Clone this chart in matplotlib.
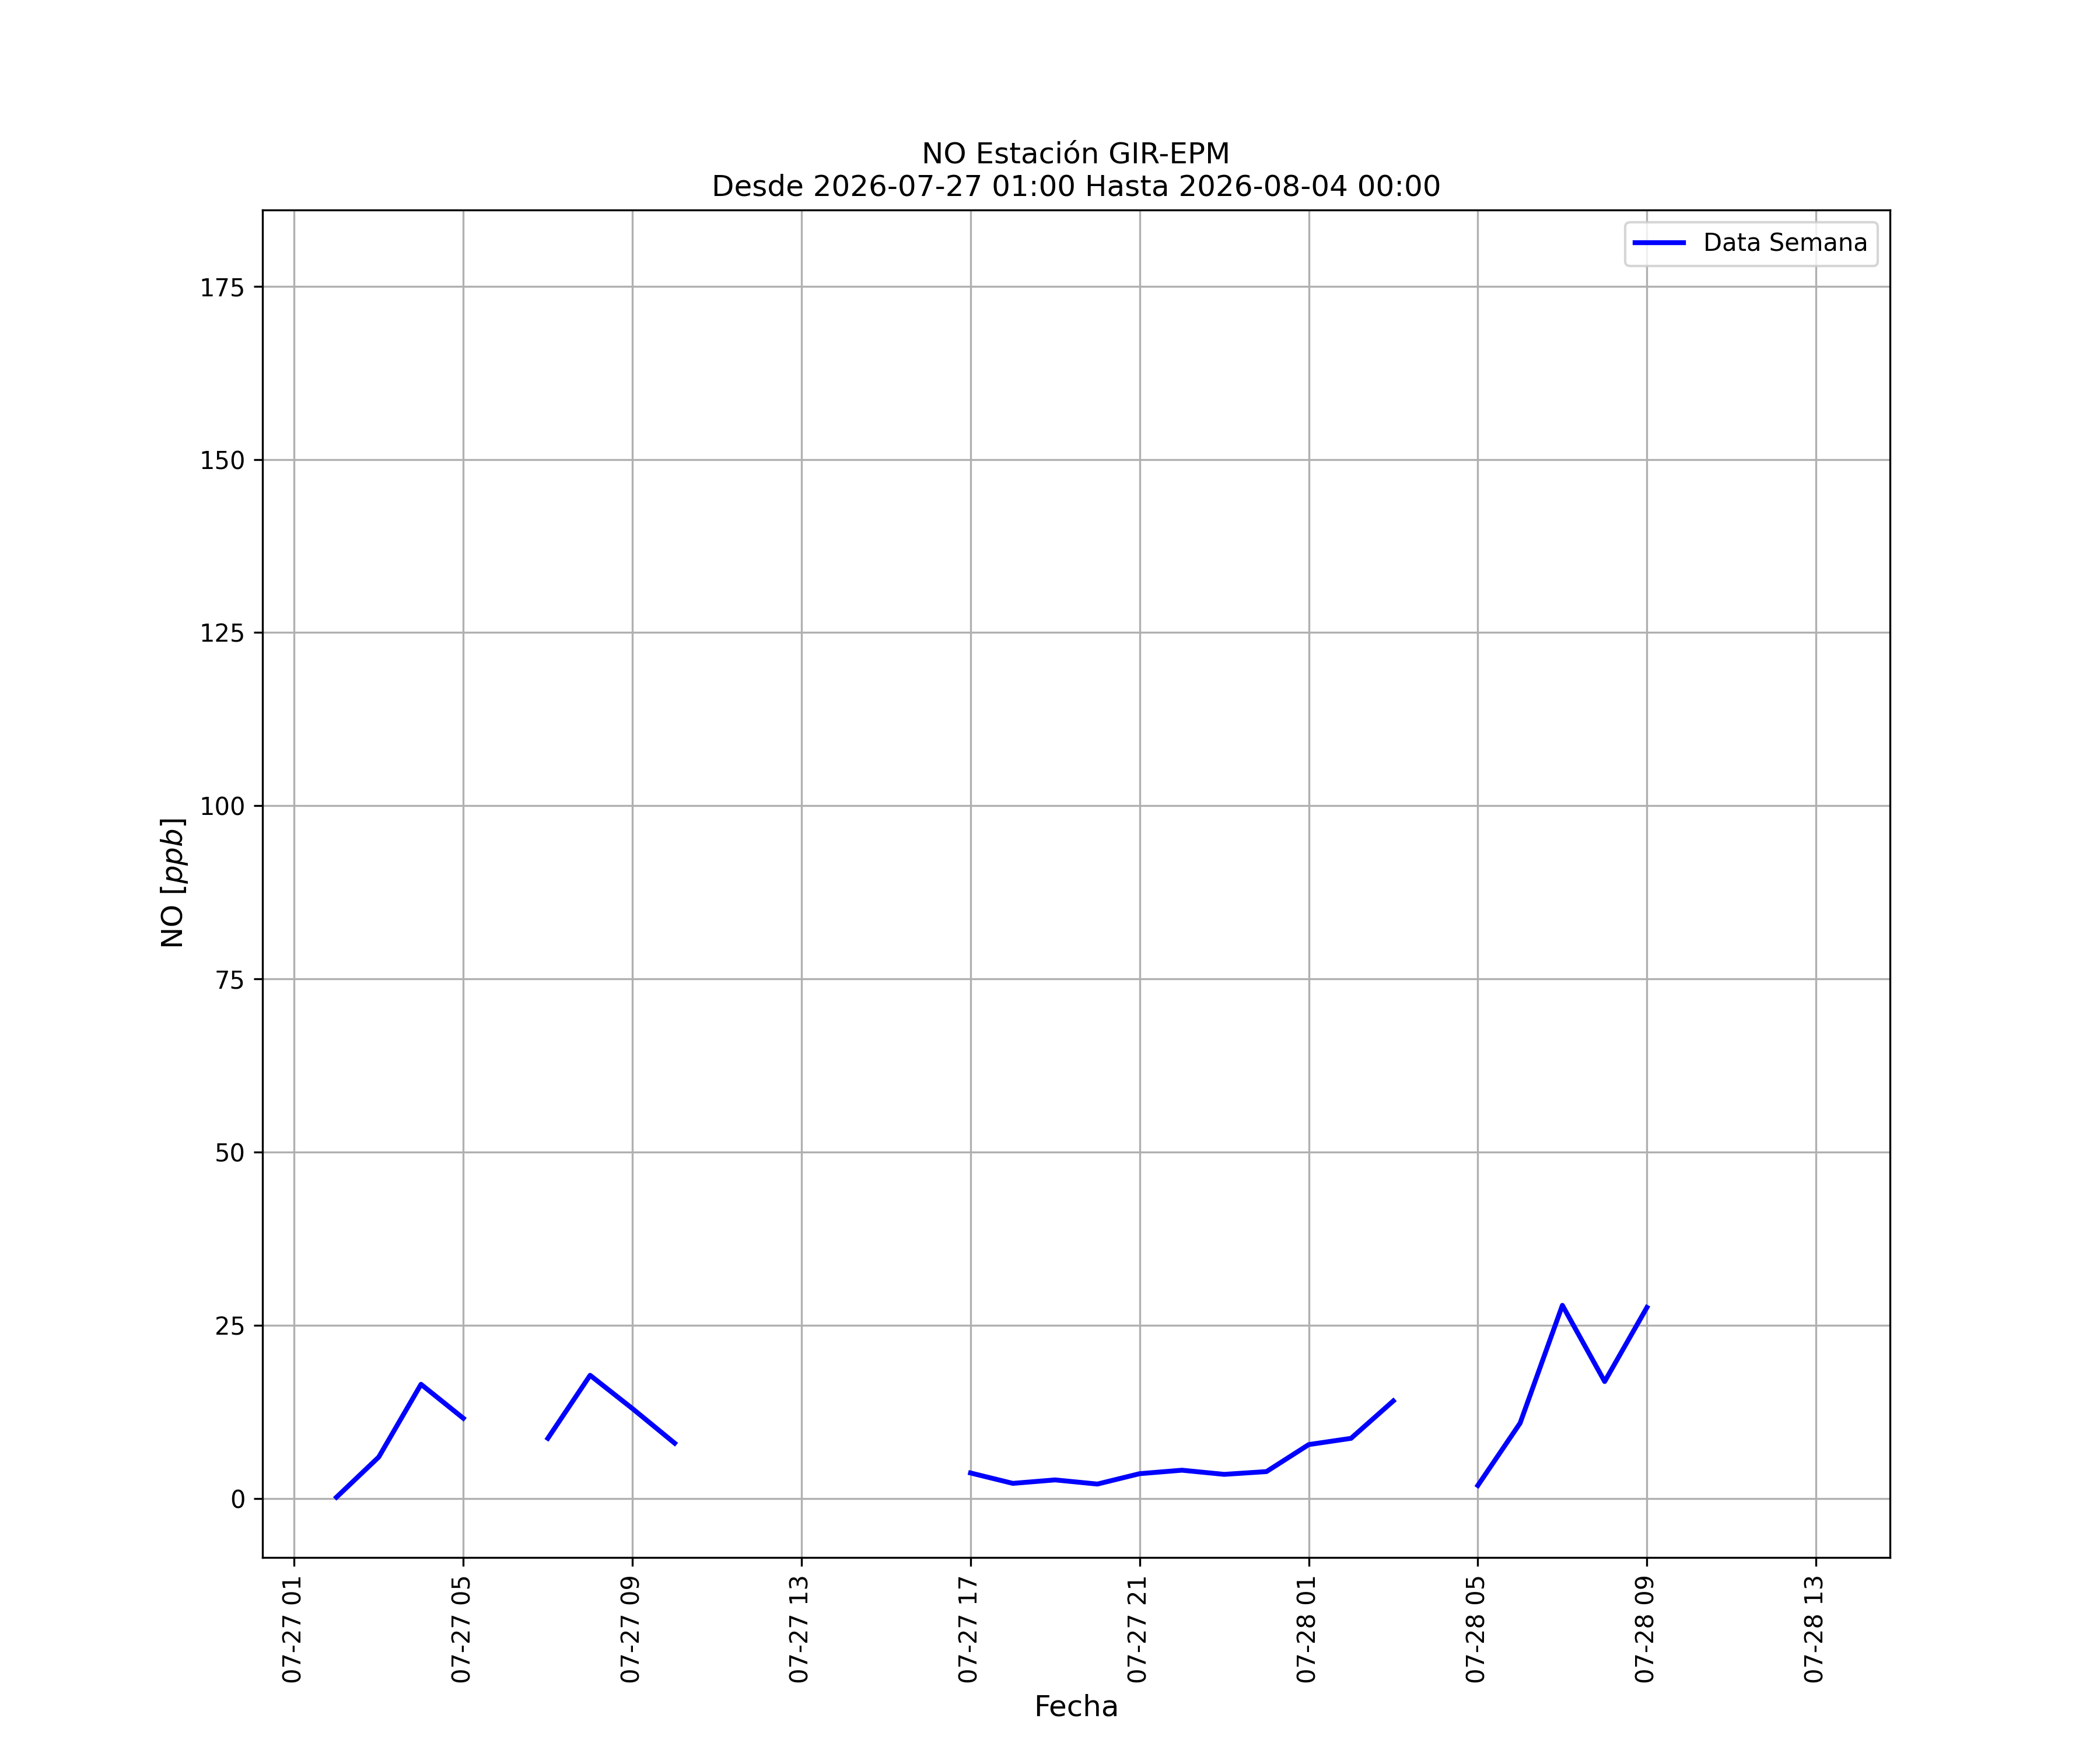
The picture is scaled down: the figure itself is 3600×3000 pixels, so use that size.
import numpy as np
import pandas as pd
import matplotlib
matplotlib.use("Agg")
import matplotlib.pyplot as plt
import matplotlib.dates as mdates

# hourly NO readings, NaN where the station gave no data
fechas = pd.date_range("2026-07-27 02:00", "2026-07-28 13:00", freq="h")
no_ppb = [
    0.2, 6.0, 16.5, 11.6, np.nan,            # 02-06
    8.7, 17.8, 13.0, 8.0,                    # 07-10
    np.nan, np.nan, np.nan, np.nan, np.nan, np.nan,   # 11-16
    3.7, 2.2, 2.7, 2.1, 3.6, 4.1, 3.5,       # 17-23
    3.9, 7.8, 8.7, 14.1, np.nan,             # 00-04 (07-28)
    1.9, 10.9, 27.9, 16.9, 27.6,             # 05-09
    np.nan, np.nan, np.nan, np.nan,          # 10-13
]

titulo = "NO Estación GIR-EPM\nDesde 2026-07-27 01:00 Hasta 2026-08-04 00:00"
y_min, y_max = -8.5, 186.0

fig, ax = plt.subplots(figsize=(12, 10))

ax.plot(fechas, no_ppb, color="blue", linewidth=2, label="Data Semana")

# 5% margin over the full time span (NaN hours included)
span = fechas[-1] - fechas[0]
ax.set_xlim(fechas[0] - span * 0.05, fechas[-1] + span * 0.05)
ax.set_ylim(y_min, y_max)

ax.xaxis.set_major_locator(mdates.HourLocator(byhour=range(1, 24, 4)))
ax.xaxis.set_major_formatter(mdates.DateFormatter("%m-%d %H"))
plt.setp(ax.get_xticklabels(), rotation=90)
ax.set_yticks(np.arange(0, 176, 25))

ax.set_title(titulo, fontsize=12)
ax.set_xlabel("Fecha", fontsize=12)
ax.set_ylabel("NO $[ppb]$", fontsize=12)
ax.grid(True)
ax.legend(loc="upper right")

plt.savefig("out.png", dpi=300)
